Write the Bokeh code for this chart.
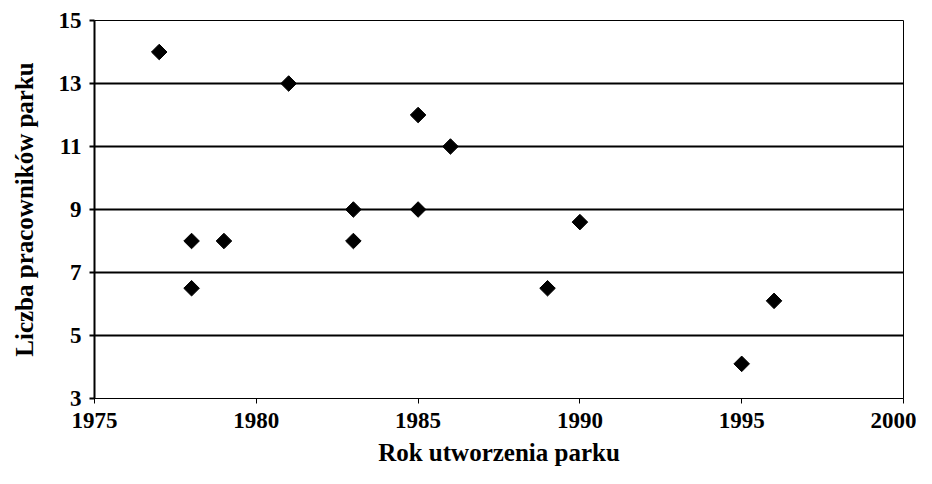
import numpy as np
from bokeh.plotting import figure
from bokeh.models import FixedTicker, ColumnDataSource
from bokeh.embed import file_html
from bokeh.resources import INLINE

years = [1977, 1978, 1978, 1979, 1981, 1983, 1983, 1985, 1985, 1986, 1989, 1990, 1995, 1996]
workers = [14, 8, 6.5, 8, 13, 9, 8, 12, 9, 11, 6.5, 8.6, 4.1, 6.1]
x_ticks = [1975, 1980, 1985, 1990, 1995, 2000]
y_ticks = [3, 5, 7, 9, 11, 13, 15]
grid_ticks = [5, 7, 9, 11, 13]

FONT = "Liberation Serif"

p = figure(width=916, height=468, output_backend="svg", toolbar_location=None,
           x_range=(1975, 2000), y_range=(3, 15),
           min_border_left=94, min_border_right=13, min_border_top=20, min_border_bottom=70)
p.background_fill_color = "white"
p.border_fill_color = "white"
p.outline_line_color = "black"
p.outline_line_width = 1

src = ColumnDataSource(dict(x=years, y=workers))
p.scatter("x", "y", source=src, marker="square", size=11, angle=np.pi / 4,
          fill_color="black", line_color="black")

p.xgrid.visible = False
p.ygrid.ticker = FixedTicker(ticks=grid_ticks)
p.ygrid.grid_line_color = "black"
p.ygrid.grid_line_width = 2

p.xaxis.ticker = FixedTicker(ticks=x_ticks)
p.yaxis.ticker = FixedTicker(ticks=y_ticks)
p.xaxis.minor_tick_line_color = None
p.yaxis.minor_tick_line_color = None

for ax in (p.xaxis[0], p.yaxis[0]):
    ax.major_tick_in = 0
    ax.major_tick_out = 5
    ax.major_tick_line_color = "black"
    ax.axis_line_color = "black"
    ax.major_label_text_font = FONT
    ax.major_label_text_font_style = "bold"
    ax.major_label_text_font_size = "23px"
    ax.major_label_text_color = "black"
    ax.axis_label_text_font = FONT
    ax.axis_label_text_font_style = "bold"
    ax.axis_label_text_font_size = "25px"
    ax.axis_label_text_color = "black"

p.yaxis.axis_line_width = 2
p.yaxis.major_tick_line_width = 2
p.xaxis.axis_line_width = 1
p.xaxis.major_tick_line_width = 1

p.xaxis.axis_label = "Rok utworzenia parku"
p.yaxis.axis_label = "Liczba pracowników parku"
p.xaxis.major_label_standoff = 9
p.xaxis.axis_label_standoff = 8
p.yaxis.major_label_standoff = 8
p.yaxis.axis_label_standoff = 18

open("out.html", "w").write(file_html(p, INLINE))
